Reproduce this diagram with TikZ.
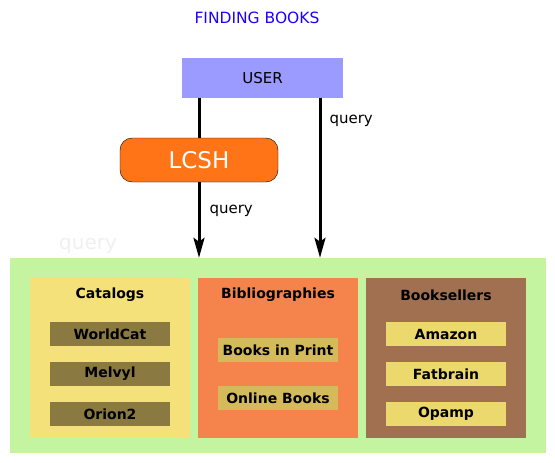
\documentclass[tikz,border=0pt]{standalone}
\usepackage{fontspec}
\setmainfont{DejaVu Sans}
\usetikzlibrary{arrows.meta}

\definecolor{titleblue}{RGB}{30,0,255}
\definecolor{userblue}{RGB}{154,154,255}
\definecolor{lcshorange}{RGB}{255,116,22}
\definecolor{poolgreen}{RGB}{196,244,160}
\definecolor{catyellow}{RGB}{244,225,122}
\definecolor{catitem}{RGB}{138,122,66}
\definecolor{biborange}{RGB}{245,132,76}
\definecolor{bibitem}{RGB}{212,186,90}
\definecolor{sellbrown}{RGB}{160,112,80}
\definecolor{sellitem}{RGB}{236,217,110}
\definecolor{faintgray}{RGB}{240,240,240}

\begin{document}
\begin{tikzpicture}[x=1pt,y=-1pt]
\useasboundingbox (0,0) rectangle (555,463);

\node (title) at (257,18) {\fontsize{15.5}{17}\selectfont\color{titleblue}FINDING BOOKS};

\begin{scope}[every node/.style={inner sep=0pt}]
    \node (user) at (262.5,78) [fill=userblue,minimum width=161pt,minimum height=40pt] {\fontsize{15}{17}\selectfont USER};
    \node (lcsh) at (199,160) [fill=lcshorange,draw=black,rounded corners=12pt,minimum width=158pt,minimum height=44pt,text=white] {\fontsize{23}{25}\selectfont LCSH};
    \node (pool) at (278,355.5) [fill=poolgreen,minimum width=536pt,minimum height=195pt] {};
    \node (faint) at (88,246) [text=faintgray] {\fontsize{20}{22}\selectfont query};
\end{scope}

\begin{scope}[every node/.style={inner sep=0pt,minimum width=160pt,minimum height=160pt}]
    \node (catalogs) at (110,358) [fill=catyellow] {};
    \node (biblio) at (278,358) [fill=biborange] {};
    \node (sellers) at (446,358) [fill=sellbrown] {};
\end{scope}

\begin{scope}[every node/.style={font=\fontsize{14}{16}\selectfont\bfseries}]
    \node (catalogs-t) at (110,295) {Catalogs};
    \node (biblio-t) at (278,295) {Bibliographies};
    \node (sellers-t) at (446,295) {Booksellers};
\end{scope}

\begin{scope}[every node/.style={inner sep=0pt,minimum width=120pt,minimum height=24pt,font=\fontsize{14}{16}\selectfont\bfseries}]
    \node (worldcat) at (110,334) [fill=catitem] {WorldCat};
    \node (melvyl) at (110,374) [fill=catitem] {Melvyl};
    \node (orion) at (110,414) [fill=catitem] {Orion2};
    \node (bip) at (278,350) [fill=bibitem] {Books in Print};
    \node (online) at (278,398) [fill=bibitem] {Online Books};
    \node (amazon) at (446,334) [fill=sellitem] {Amazon};
    \node (fatbrain) at (446,374) [fill=sellitem] {Fatbrain};
    \node (opamp) at (446,414) [fill=sellitem] {Opamp};
\end{scope}

\coordinate (user-r) at ([xshift=57.5pt]user.south);

\begin{scope}[>={Stealth[length=20pt,width=11pt,inset=4pt]},
              every node/.style={font=\fontsize{15}{17}\selectfont,inner sep=0pt},
              query_edge/.style={draw=black,line width=3pt}]
    \path (user.south -| lcsh.center) edge [query_edge] (lcsh.north);
    \path [->] (lcsh.south) edge [query_edge] node [right,xshift=9pt,yshift=9pt] {query} (lcsh.south |- pool.north);
    \path [->] (user-r) edge [query_edge] node [pos=0.14,right,xshift=8pt] {query} (user-r |- pool.north);
\end{scope}
\end{tikzpicture}
\end{document}
